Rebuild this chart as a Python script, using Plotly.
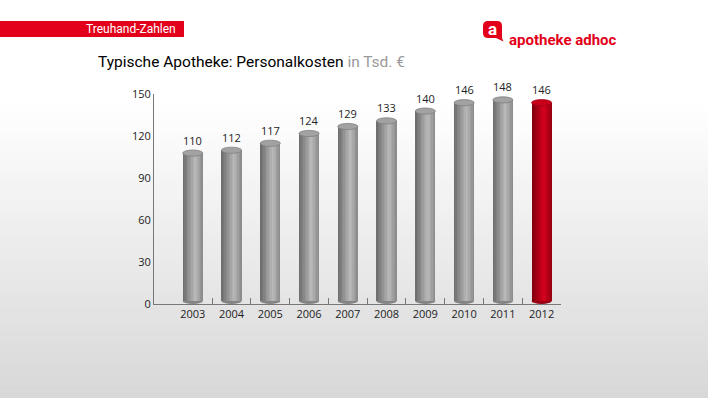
import plotly.graph_objects as go

years = ["2003", "2004", "2005", "2006", "2007", "2008", "2009", "2010", "2011", "2012"]
values = [110, 112, 117, 124, 129, 133, 140, 146, 148, 146]
highlight = [False] * 9 + [True]
y_ticks = [0, 30, 60, 90, 120, 150]

W, H = 708, 398
ML, MR, MT, MB = 154, 147, 94, 94
PW, PH = W - ML - MR, H - MT - MB


def px_x(px):
    return (px - ML) / PW


def px_y(py):
    return (H - MB - py) / PH


def lerp(c1, c2, t):
    return tuple(int(round(a + (b - a) * t)) for a, b in zip(c1, c2))


def rgb(c):
    return "rgb(%d,%d,%d)" % c


def cyl_color(t, red):
    if red:
        stops = [(0.0, (120, 0, 14)), (0.6, (214, 0, 28)), (1.0, (150, 0, 18))]
    else:
        stops = [(0.0, (106, 106, 106)), (0.62, (186, 186, 186)), (1.0, (136, 136, 136))]
    for (t0, c0), (t1, c1) in zip(stops, stops[1:]):
        if t <= t1:
            return rgb(lerp(c0, c1, (t - t0) / (t1 - t0)))
    return rgb(stops[-1][1])


idx = list(range(len(years)))
bw = 0.52
ell = 2.2
N = 14

fig = go.Figure()
for k in range(N):
    t = (k + 0.5) / N
    off = -bw / 2 + k * bw / N
    fig.add_trace(go.Bar(
        x=idx, y=[v - 2 * ell for v in values], base=ell,
        width=bw / 2 - off, offset=off,
        marker=dict(color=[cyl_color(t, h) for h in highlight], line=dict(width=0)),
        hoverinfo="skip", showlegend=False,
    ))

# dummy trace to create overlay axes for the boundary ticks
fig.add_trace(go.Scatter(x=[None], y=[None], xaxis="x2", yaxis="y2", showlegend=False, hoverinfo="skip"))

shapes = []
# background gradient bands
nb = 60
for i in range(nb):
    y0p = i * H / nb
    y1p = (i + 1) * H / nb
    t = max(0.0, (y0p - 100) / (H - 100))
    c = lerp((255, 255, 255), (215, 215, 215), min(1.0, t))
    shapes.append(dict(type="rect", xref="paper", yref="paper",
                       x0=px_x(-2), x1=px_x(W + 2), y0=px_y(y1p + 0.5), y1=px_y(y0p),
                       fillcolor=rgb(c), line=dict(width=0), layer="below"))

for i, v, h in zip(idx, values, highlight):
    base_fill = "rgb(150,0,18)" if h else "rgb(132,132,132)"
    shapes.append(dict(type="circle", xref="x", yref="y", x0=i - bw / 2, x1=i + bw / 2,
                       y0=0, y1=2 * ell, fillcolor=base_fill, line=dict(width=0), layer="below"))
    top_fill = "rgb(200,0,26)" if h else "rgb(162,162,162)"
    top_line = "rgb(160,0,20)" if h else "rgb(128,128,128)"
    shapes.append(dict(type="circle", xref="x", yref="y", x0=i - bw / 2, x1=i + bw / 2,
                       y0=v - 2 * ell, y1=v, fillcolor=top_fill,
                       line=dict(width=0.8, color=top_line), layer="above"))

# red banner
shapes.append(dict(type="rect", xref="paper", yref="paper", x0=px_x(-2), x1=px_x(184),
                   y0=px_y(37), y1=px_y(21), fillcolor="#e2001a", line=dict(width=0)))


# logo speech bubble (rounded square with tail)
def P(x, y):
    return "%f,%f" % (px_x(x), px_y(y))


bx0, bx1, by0, by1, r = 483, 502, 21, 38, 5
bubble = ("M " + P(bx0 + r, by0) + " L " + P(bx1 - r, by0) + " Q " + P(bx1, by0) + " " + P(bx1, by0 + r)
          + " L " + P(bx1, by1) + " L " + P(bx1 + 1.5, by1 + 3.5) + " L " + P(bx1 - 6, by1)
          + " L " + P(bx0 + r, by1) + " Q " + P(bx0, by1) + " " + P(bx0, by1 - r)
          + " L " + P(bx0, by0 + r) + " Q " + P(bx0, by0) + " " + P(bx0 + r, by0) + " Z")
shapes.append(dict(type="path", xref="paper", yref="paper", path=bubble,
                   fillcolor="#e2001a", line=dict(width=0)))

annotations = []
for i, v in zip(idx, values):
    annotations.append(dict(x=i, y=v, xref="x", yref="y", text=str(v), showarrow=False,
                            yshift=10, font=dict(family="Open Sans", size=11, color="#222")))

annotations += [
    dict(x=px_x(178), y=px_y(29), xref="paper", yref="paper", xanchor="right", yanchor="middle",
         text="Treuhand-Zahlen", showarrow=False, font=dict(family="Roboto", size=12, color="white")),
    dict(x=px_x(492.5), y=px_y(28.5), xref="paper", yref="paper", xanchor="center", yanchor="middle",
         text="<b>a</b>", showarrow=False, font=dict(family="Roboto", size=17, color="white")),
    dict(x=px_x(507), y=px_y(40), xref="paper", yref="paper", xanchor="left", yanchor="middle",
         text="<b>apotheke adhoc</b>", showarrow=False, font=dict(family="Roboto", size=15, color="#e2001a")),
    dict(x=px_x(96), y=px_y(62), xref="paper", yref="paper", xanchor="left", yanchor="middle",
         text="Typische Apotheke: Personalkosten <span style='color:#9a9a9a'>in Tsd. €</span>",
         showarrow=False, font=dict(family="Roboto", size=15.5, color="#000")),
]

xr = [-1.0, len(years) - 0.5]
fig.update_layout(
    width=W, height=H,
    margin=dict(l=ML, r=MR, t=MT, b=MB),
    paper_bgcolor="white", plot_bgcolor="rgba(0,0,0,0)",
    barmode="overlay", bargap=0,
    shapes=shapes, annotations=annotations,
    xaxis=dict(range=xr, tickvals=idx, ticktext=years, ticks="", showline=True,
               linecolor="#777", linewidth=1, showgrid=False, zeroline=False,
               tickfont=dict(family="Open Sans", size=11, color="#222"), fixedrange=True),
    xaxis2=dict(range=xr, overlaying="x", anchor="y2", side="bottom",
                tickvals=[i + 0.5 for i in idx], ticks="inside", ticklen=6, tickcolor="#777",
                showticklabels=False, showgrid=False, zeroline=False, showline=False),
    yaxis=dict(range=[0, 150], tickvals=y_ticks, ticks="", showline=True, linecolor="#777",
               linewidth=1, showgrid=False, zeroline=False,
               tickfont=dict(family="Open Sans", size=11, color="#222")),
    yaxis2=dict(range=[0, 150], overlaying="y", anchor="x2", side="left",
                tickvals=[y_ticks[-1]], ticks="inside", ticklen=8, tickcolor="#777",
                showticklabels=False, showgrid=False, zeroline=False, showline=False),
)

fig.write_html("out.html", config={"displayModeBar": False, "staticPlot": True},
               post_script="document.body.style.margin='0';document.body.style.overflow='hidden';")
